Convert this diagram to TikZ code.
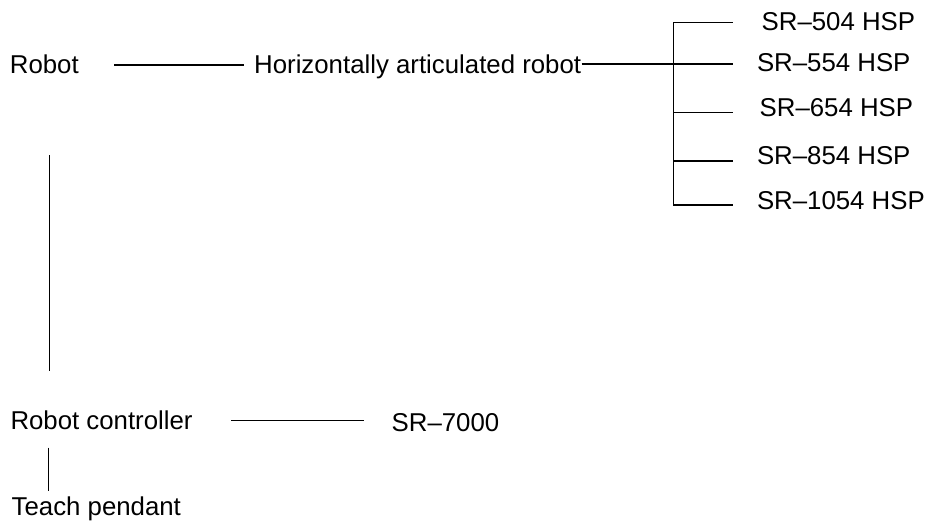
\documentclass[tikz,border=0pt]{standalone}
\usepackage{fontspec}
\setmainfont{Liberation Sans}
\begin{document}
\begin{tikzpicture}[x=1pt,y=-1pt,
  lbl/.style={anchor=base west,inner sep=0pt,font=\fontsize{25.8}{30}\selectfont},
  conn/.style={draw=black,line width=1.1pt}]
\useasboundingbox[fill=white] (0,0) rectangle (926,522);
% nodes
\node[lbl] (robot) at (9.7,73.3) {Robot};
\node[lbl] (horiz) at (254,73.3) {Horizontally articulated robot};
\node[lbl] (sr504) at (761.5,30.7) {SR–504 HSP};
\node[lbl] (sr554) at (756.8,71.7) {SR–554 HSP};
\node[lbl] (sr654) at (759.5,116.7) {SR–654 HSP};
\node[lbl] (sr854) at (756.8,164) {SR–854 HSP};
\node[lbl] (sr1054) at (756.8,209.5) {SR–1054 HSP};
\node[lbl] (ctrl) at (10.3,429.3) {Robot controller};
\node[lbl] (sr7000) at (391.5,431.7) {SR–7000};
\node[lbl] (teach) at (11.5,515) {Teach pendant};
% connector coordinates
\coordinate (rA) at (114,65);
\coordinate (rB) at (244.3,65);
\coordinate (hA) at (581.7,64);
\coordinate (be) at (733.3,0);
\coordinate (b1) at (673.3,22.7);
\coordinate (b3) at (673.3,112.7);
\coordinate (b4) at (673.3,161);
\coordinate (b5) at (673.3,205);
\coordinate (vA) at (49.3,155);
\coordinate (vB) at (49.3,371);
\coordinate (cA) at (231,420.3);
\coordinate (cB) at (364,420.3);
\coordinate (tA) at (48.3,447.7);
\coordinate (tB) at (48.3,491);
% connectors
\draw[conn] (rA) -- (rB);
\draw[conn] (hA) -- (be |- hA);
\draw[conn] (b1) -- (b5);
\draw[conn] (b1) -- (be |- b1);
\draw[conn] (b3) -- (be |- b3);
\draw[conn] (b4) -- (be |- b4);
\draw[conn] (b5) -- (be |- b5);
\draw[conn] (vA) -- (vB);
\draw[conn] (cA) -- (cB);
\draw[conn] (tA) -- (tB);
\end{tikzpicture}
\end{document}
